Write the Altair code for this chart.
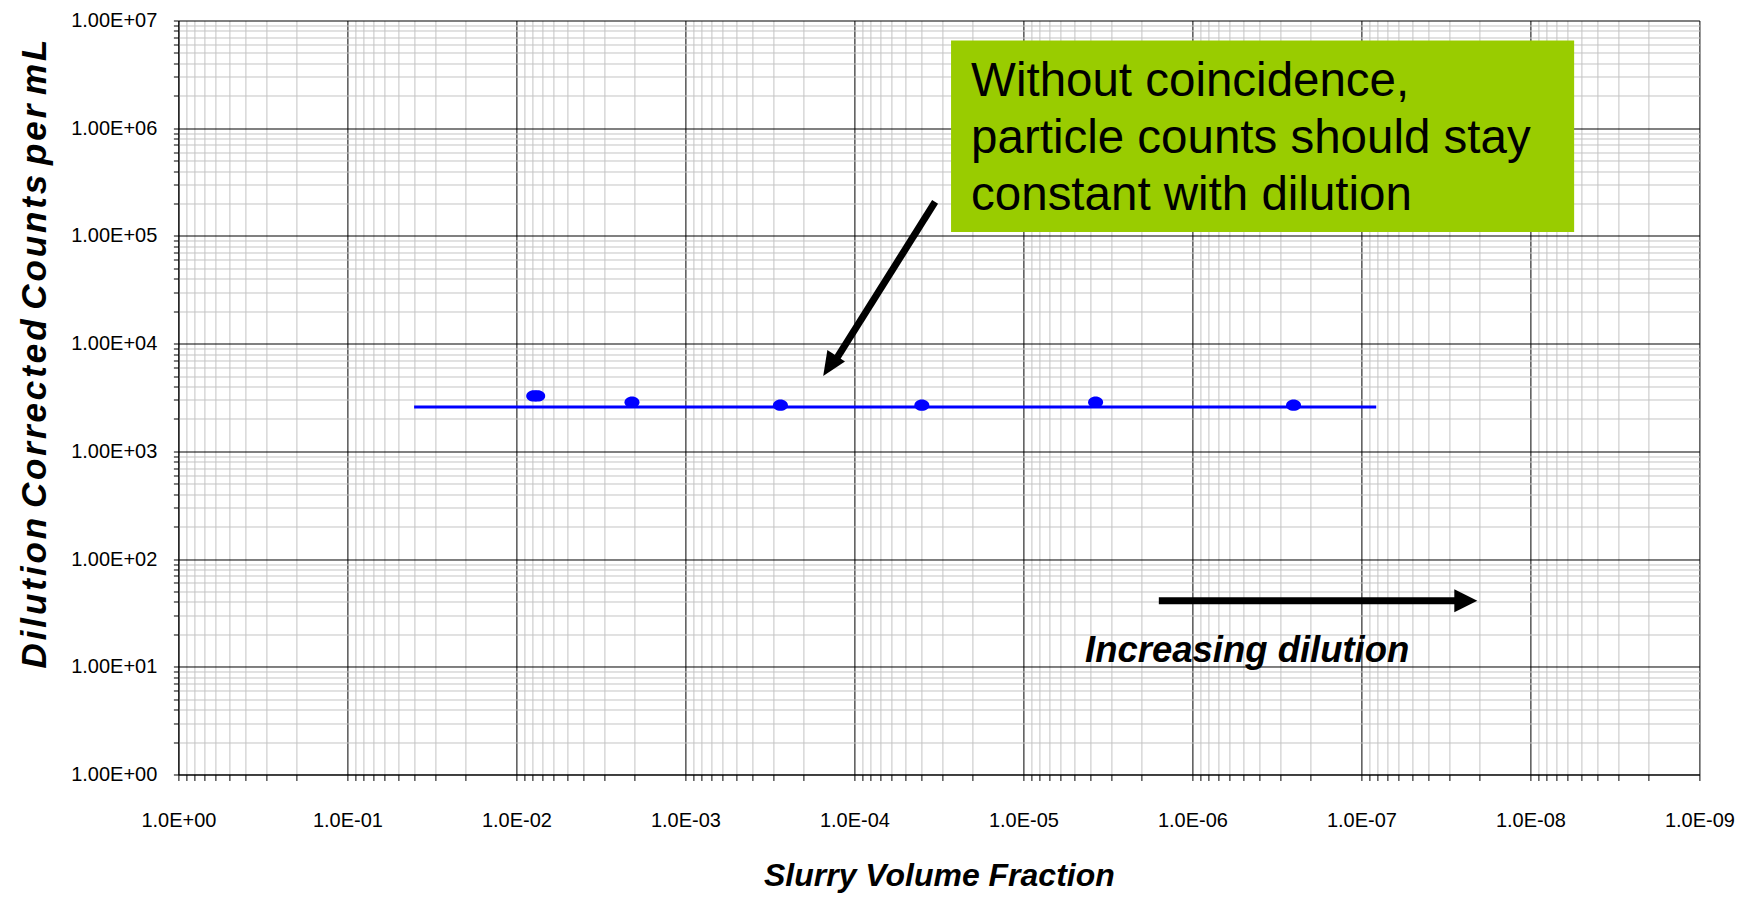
import altair as alt
import pandas as pd

# ---- measured data ----
slurry_fraction = [7.90e-3, 7.48e-3, 2.07e-3, 2.74e-4, 3.99e-5, 3.74e-6, 2.52e-7]
counts_per_ml = [3270, 3270, 2860, 2680, 2680, 2860, 2680]
fit_fraction = [4.03e-2, 8.17e-8]
fit_counts = [2584, 2584]

x_decades = list(range(0, -10, -1))
y_decades = list(range(0, 8))
x_ticks = sorted([10.0 ** e for e in x_decades] + [k * 10.0 ** e for e in range(-9, 0) for k in range(2, 10)])
y_ticks = sorted([10.0 ** e for e in y_decades] + [k * 10.0 ** e for e in range(0, 7) for k in range(2, 10)])

x_title = "Slurry Volume Fraction"
y_title_words = ["Dilution", "Corrected", "Counts", "per", "mL"]
box_text = "Without coincidence,\nparticle counts should stay\nconstant with dilution"
dilution_text = "Increasing dilution"

# annotation anchors (in data units)
box_x = [2.68e-5]; box_x2 = [5.51e-9]; box_y = [6.53e6]; box_y2 = [1.089e5]
box_text_x = [2.04e-5]; box_text_y = [1.995e6]
arrow1_x = [3.33e-5]; arrow1_y = [2.07e5]; arrow1_x2 = [1.334e-4]; arrow1_y2 = [6478]
head1_x = [1.40e-4]; head1_y = [6221]
arrow2_x = [1.58e-6]; arrow2_x2 = [2.67e-8]; arrow2_y = [41.1]
head2_x = [2.41e-8]; head2_y = [41.1]
dil_text_x = [4.32e-6]; dil_text_y = [11.15]

LOG = "(log(datum.value)/LN10)"
EXP = f"round({LOG})"
IS_MAJOR = f"abs({LOG} - {EXP}) < 0.001"
x_label = f"{IS_MAJOR} ? '1.0E' + ({EXP} < 0 ? '-' : '+') + (abs({EXP}) < 10 ? '0' : '') + abs({EXP}) : ''"
y_label = f"{IS_MAJOR} ? '1.00E' + ({EXP} < 0 ? '-' : '+') + (abs({EXP}) < 10 ? '0' : '') + abs({EXP}) : ''"
grid_color = {"condition": {"test": IS_MAJOR, "value": "#000000"}, "value": "#c4c4c4"}

y_title = " ".join("\u200a".join(w) for w in y_title_words)

TICK_FONT = "Liberation Sans"
TITLE_FONT = "Liberation Sans"

x_axis = alt.Axis(
    title=x_title, values=x_ticks, labelExpr=x_label,
    labelFont=TICK_FONT, labelFontSize=20, labelColor="#000000",
    labelPadding=30, labelOverlap=False, labelFlush=False,
    tickSize=6, tickColor="#000000", tickWidth=1,
    domainColor="#000000", domainWidth=1,
    grid=True, gridColor=grid_color, gridWidth=1,
    titleFont=TITLE_FONT, titleFontSize=32, titleFontStyle="italic", titleFontWeight="bold",
    titleColor="#000000", titleY=111, titleBaseline="alphabetic",
)
y_axis = alt.Axis(
    title=y_title, values=y_ticks, labelExpr=y_label,
    labelFont=TICK_FONT, labelFontSize=20, labelColor="#000000",
    labelPadding=16.6, labelOverlap=False, labelFlush=False,
    tickSize=5, tickColor="#000000", tickWidth=1,
    domainColor="#000000", domainWidth=1,
    grid=True, gridColor=grid_color, gridWidth=1,
    titleFont=TITLE_FONT, titleFontSize=35, titleFontStyle="italic", titleFontWeight="bold",
    titleColor="#000000", titleX=-133, titleY=333, titleAngle=270,
    titleBaseline="alphabetic", titleAlign="center",
)
x_scale = alt.Scale(type="log", domain=[1e-9, 1], reverse=True, nice=False)
y_scale = alt.Scale(type="log", domain=[1, 1e7], nice=False)

X = alt.X("x:Q", scale=x_scale, axis=x_axis)
Y = alt.Y("y:Q", scale=y_scale, axis=y_axis)

ELLIPSE = "M-1,0 A1,0.75 0 1,1 1,0 A1,0.75 0 1,1 -1,0 Z"
HEAD_DOWN = "M0,1 L-0.875,-1 L0.875,-1 Z"
HEAD_RIGHT = "M1,0 L-1,-1 L-1,1 Z"

box = alt.Chart(pd.DataFrame({"x": box_x, "x2": box_x2, "y": box_y, "y2": box_y2})).mark_rect(
    color="#99cc00").encode(x=X, x2="x2:Q", y=Y, y2="y2:Q")

box_label = alt.Chart(pd.DataFrame({"x": box_text_x, "y": box_text_y, "t": [box_text]})).mark_text(
    align="left", baseline="alphabetic", font=TITLE_FONT, fontSize=47.5, lineHeight=57,
    lineBreak="\n", color="#000000").encode(x=X, y=Y, text="t:N")

arrow1 = alt.Chart(pd.DataFrame({"x": arrow1_x, "y": arrow1_y, "x2": arrow1_x2, "y2": arrow1_y2})).mark_rule(
    color="#000000", strokeWidth=7, strokeCap="butt").encode(x=X, y=Y, x2="x2:Q", y2="y2:Q")
head1 = alt.Chart(pd.DataFrame({"x": head1_x, "y": head1_y})).mark_point(
    shape=HEAD_DOWN, filled=True, color="#000000", opacity=1, size=576, angle=32.8,
    strokeWidth=0).encode(x=X, y=Y)

arrow2 = alt.Chart(pd.DataFrame({"x": arrow2_x, "y": arrow2_y, "x2": arrow2_x2})).mark_rule(
    color="#000000", strokeWidth=7, strokeCap="butt").encode(x=X, y=Y, x2="x2:Q")
head2 = alt.Chart(pd.DataFrame({"x": head2_x, "y": head2_y})).mark_point(
    shape=HEAD_RIGHT, filled=True, color="#000000", opacity=1, size=529,
    strokeWidth=0).encode(x=X, y=Y)

dil_label = alt.Chart(pd.DataFrame({"x": dil_text_x, "y": dil_text_y, "t": [dilution_text]})).mark_text(
    align="left", baseline="alphabetic", font=TITLE_FONT, fontSize=36.5, fontStyle="italic",
    fontWeight="bold", color="#000000").encode(x=X, y=Y, text="t:N")

fit = alt.Chart(pd.DataFrame({"x": fit_fraction, "y": fit_counts})).mark_line(
    color="#0000ff", strokeWidth=3).encode(x=X, y=Y)

pts = alt.Chart(pd.DataFrame({"x": slurry_fraction, "y": counts_per_ml})).mark_point(
    shape=ELLIPSE, filled=True, color="#0000ff", opacity=1, size=225, strokeWidth=0).encode(x=X, y=Y)

chart = alt.layer(box, box_label, arrow1, head1, arrow2, head2, dil_label, fit, pts).properties(
    width=1521, height=754,
    autosize=alt.AutoSizeParams(type="none"),
    padding={"left": 170.4, "top": 12.5, "right": 44, "bottom": 120},
    background="#ffffff",
).configure_view(strokeWidth=0)

chart.save("out.html", embed_options={"renderer": "svg", "actions": False})
